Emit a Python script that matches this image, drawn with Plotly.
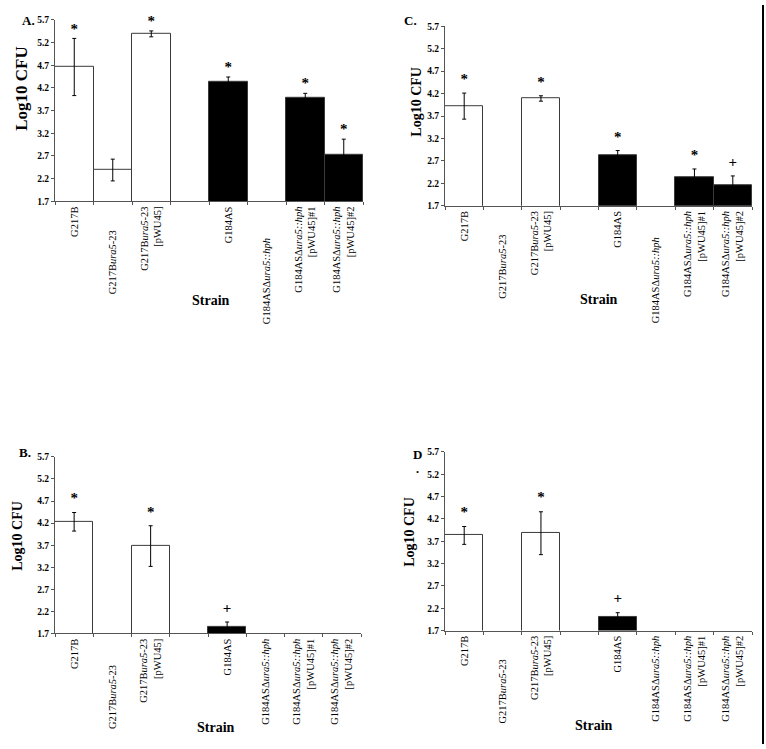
import plotly.graph_objects as go

# ---------------- data ----------------
strain_keys = ["G217B", "G217B ura5-23", "G217B ura5-23 [pWU45]", "gap",
               "G184AS", "G184AS dura5::hph", "G184AS dura5::hph [pWU45]#1",
               "G184AS dura5::hph [pWU45]#2"]
strain_labels = ["G217B", "G217B<i>ura5</i>-23", "G217B<i>ura5</i>-23<br>[pWU45]", "",
                 "G184AS", "G184ASΔ<i>ura5::hph</i>",
                 "G184ASΔ<i>ura5::hph</i><br>[pWU45]#1",
                 "G184ASΔ<i>ura5::hph</i><br>[pWU45]#2"]
strain_group = ["G217B", "G217B", "G217B", "", "G184AS", "G184AS", "G184AS", "G184AS"]

a_values = [4.66, 2.39, 5.39, None, 4.34, None, 3.99, 2.73]
a_errors = [0.63, 0.24, 0.065, None, 0.10, None, 0.09, 0.34]
a_marks = ["*", "", "*", "", "*", "", "*", "*"]

c_values = [3.92, None, 4.09, None, 2.82, None, 2.34, 2.155]
c_errors = [0.29, None, 0.06, None, 0.11, None, 0.18, 0.21]
c_marks = ["*", "", "*", "", "*", "", "*", "+"]

b_values = [4.23, None, 3.68, None, 1.85, None, None, None]
b_errors = [0.21, None, 0.46, None, 0.11, None, None, None]
b_marks = ["*", "", "*", "", "+", "", "", ""]

d_values = [3.83, None, 3.88, None, 2.00, None, None, None]
d_errors = [0.20, None, 0.48, None, 0.10, None, None, None]
d_marks = ["*", "", "*", "", "+", "", "", ""]

y_ticks = [1.7, 2.2, 2.7, 3.2, 3.7, 4.2, 4.7, 5.2, 5.7]

# ---------------- style ----------------
W, H = 766, 749
SERIF = "Liberation Serif, Times New Roman, serif"
NB = "\u00a0"

def px_x(x):
    return x / W

def px_y(y):
    return 1 - y / H

panels = [
    dict(letter="A.", values=a_values, errors=a_errors, marks=a_marks,
         x0=55, x1=363, y0=15, y1=199, pad=[0, 9, 0, 0, 0, 12, 0, 0], moff=0.19,
         letter_xy=(28, 16), ytitle_xy=(22, 85), ytitle_size=17, strain_xy=(211, 300)),
    dict(letter="C.", values=c_values, errors=c_errors, marks=c_marks,
         x0=445, x1=752, y0=21.5, y1=203.5, pad=[0, 9, 0, 0, 0, 10, 0, 0], moff=0.28,
         letter_xy=(411, 16), ytitle_xy=(417, 98), ytitle_size=14, strain_xy=(599, 298)),
    dict(letter="B.", values=b_values, errors=b_errors, marks=b_marks,
         x0=55, x1=361, y0=458, y1=637, pad=[0, 10, 0, 0, 0, 0, 0, 0], moff=0.29,
         letter_xy=(25, 454), ytitle_xy=(18, 538), ytitle_size=14, strain_xy=(216, 732)),
    dict(letter="D", values=d_values, errors=d_errors, marks=d_marks,
         x0=445, x1=752, y0=453, y1=634, pad=[0, 9, 0, 0, 0, 0, 0, 0], moff=0.3,
         letter_xy=(418, 456), ytitle_xy=(410, 534), ytitle_size=14, strain_xy=(594, 730)),
]

fig = go.Figure()
annotations = []
layout = {}

def note(text, x, y, size, angle=0, bold=True):
    return dict(text=text, x=px_x(x), y=px_y(y), xref="paper", yref="paper",
                xanchor="center", yanchor="middle", textangle=angle, showarrow=False,
                font=dict(family=SERIF, size=size, color="black",
                          weight="bold" if bold else "normal"))

for i, p in enumerate(panels):
    n = "" if i == 0 else str(i + 1)
    xa, ya = "x" + n, "y" + n
    colors = ["black" if g == "G184AS" else "white" for g in strain_group]
    fig.add_trace(go.Bar(
        x=strain_keys, y=p["values"], xaxis=xa, yaxis=ya,
        marker=dict(color=colors, line=dict(color="#3a3a3a", width=1)),
        error_y=dict(type="data", array=p["errors"], visible=True,
                     color="black", thickness=1, width=2),
        showlegend=False, hoverinfo="skip",
    ))
    mark_y = [None if (v is None or m == "") else v + e + p["moff"]
              for v, e, m in zip(p["values"], p["errors"], p["marks"])]
    fig.add_trace(go.Scatter(
        x=strain_keys, y=mark_y, xaxis=xa, yaxis=ya, mode="text",
        text=p["marks"], textposition="middle center",
        textfont=dict(family=SERIF, size=15, color="#000000", weight="bold"),
        marker=dict(color="#000000"),
        showlegend=False, hoverinfo="skip", cliponaxis=False,
    ))
    ticktext = [lab + NB * k for lab, k in zip(strain_labels, p["pad"])]
    layout["xaxis" + n] = dict(
        domain=[px_x(p["x0"]), px_x(p["x1"])], anchor=ya,
        type="category", categoryorder="array", categoryarray=strain_keys,
        tickmode="array", tickvals=strain_keys, ticktext=ticktext,
        tickangle=-90, tickfont=dict(family=SERIF, size=10.5, color="black"),
        showline=True, linecolor="#555", linewidth=1,
        ticks="outside", tickson="boundaries", ticklen=3, tickcolor="#555",
        showgrid=False, zeroline=False, fixedrange=True,
    )
    layout["yaxis" + n] = dict(
        domain=[px_y(p["y1"]), px_y(p["y0"])], anchor=xa,
        range=[1.7, 5.7], tickmode="array", tickvals=y_ticks,
        ticktext=[f"{t:.1f}" for t in y_ticks],
        tickfont=dict(family=SERIF, size=9.5, color="black", weight="bold"),
        showline=True, linecolor="#555", linewidth=1,
        ticks="outside", ticklen=3, tickcolor="#555",
        showgrid=False, zeroline=False, fixedrange=True,
    )
    annotations.append(note(p["letter"], *p["letter_xy"], 13))
    annotations.append(note("Log10 CFU", *p["ytitle_xy"], p["ytitle_size"], angle=-90))
    annotations.append(note("Strain", *p["strain_xy"], 14))

# stray period under the "D" label
annotations.append(note(".", 418, 470, 12))

fig.update_layout(
    width=W, height=H, margin=dict(l=0, r=0, t=0, b=0),
    paper_bgcolor="white", plot_bgcolor="white",
    bargap=0, annotations=annotations,
    shapes=[dict(type="line", xref="paper", yref="paper", x0=px_x(763), x1=px_x(763),
                 y0=0, y1=1, line=dict(color="black", width=2))],
    **layout,
)

fig.write_html("out.html", config={"displayModeBar": False},
               post_script="document.body.style.margin='0px';document.body.style.overflow='hidden';")
